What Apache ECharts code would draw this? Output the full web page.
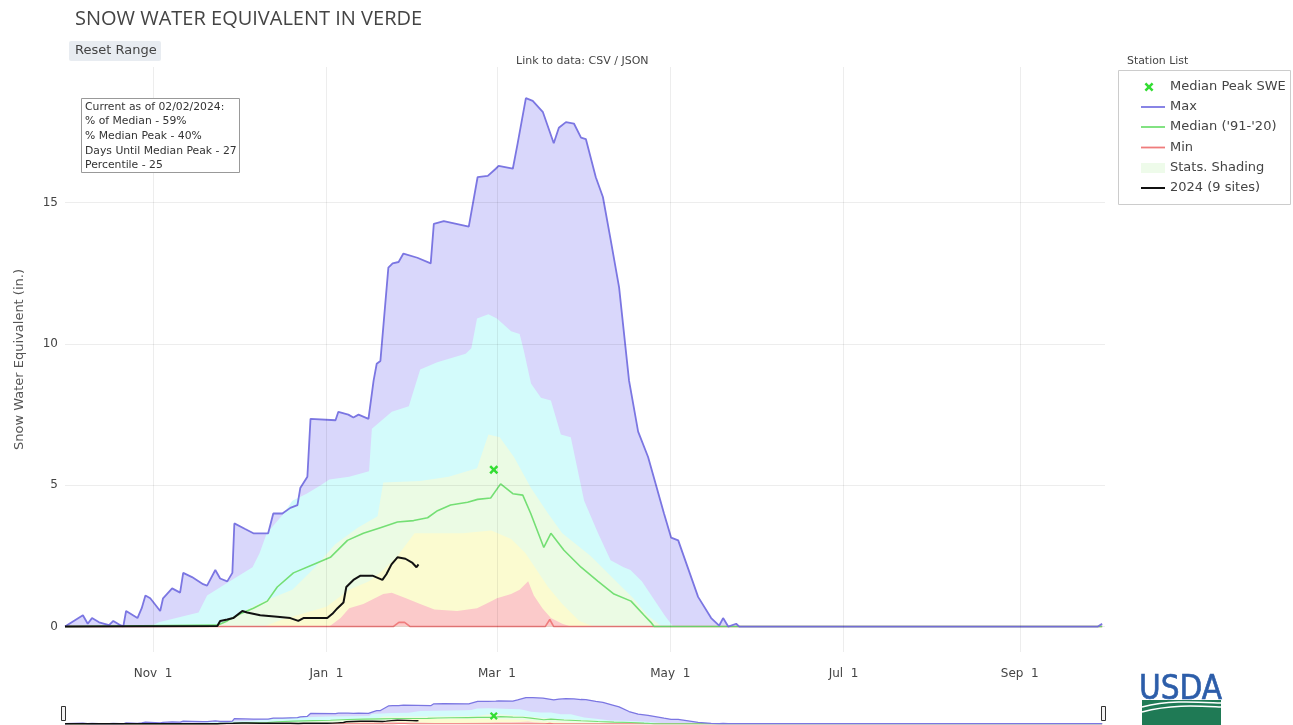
<!DOCTYPE html>
<html><head><meta charset="utf-8">
<script src="https://cdn.jsdelivr.net/npm/echarts@6/dist/echarts.min.js"></script>
<style>html,body{margin:0;padding:0;background:#fff}#c{width:1293px;height:725px}</style>
</head><body><div id="c"></div>
<script>
// ---- data (x = days since Oct 1, 2023; water year 2024) ----
const xTickDays = [31, 92, 152, 213, 274, 336];
const xTickLabels = ['Nov  1', 'Jan  1', 'Mar  1', 'May  1', 'Jul  1', 'Sep  1'];
const yTicks = [0, 5, 10, 15];

const maxDays = [0,6.3,8,9.5,12,15.5,17,19.5,20.5,21.5,25.5,27,28.3,30,33.5,34.5,37.7,40.5,41.6,44.7,48.6,50,52.9,54.6,57.1,58.9,59.6,63.4,66.3,71.5,73.3,76.5,79.3,81.8,82.8,85.3,86.4,95.2,96.2,99.7,101.5,103.3,106.8,108.6,109.7,111,113.8,115.3,117.4,119.1,124,128.7,129.8,133.3,142.1,145.2,148.8,151.6,152.6,157.6,159.3,162.2,164.6,168.2,172,173.8,176.3,179.1,181.6,183.3,186.8,189.3,192.1,195,198.5,201.7,205.2,210.8,213.3,215.8,222.8,227.4,230.2,231.6,233.4,236.2,237.3,363.5,365];
const maxValues = [0,0.4,0.1,0.3,0.15,0.05,0.2,0.05,0,0.55,0.3,0.65,1.1,1.0,0.55,1.0,1.35,1.2,1.9,1.75,1.5,1.45,2.0,1.7,1.6,1.9,3.65,3.45,3.3,3.3,4.0,4.0,4.2,4.3,4.9,5.3,7.35,7.3,7.6,7.5,7.4,7.5,7.35,8.7,9.3,9.4,12.7,12.85,12.9,13.2,13.05,12.85,14.25,14.35,14.15,15.9,15.95,16.2,16.3,16.2,17.1,18.7,18.6,18.2,17.1,17.65,17.85,17.8,17.3,17.25,15.9,15.2,13.65,12.0,8.7,6.9,6.0,4.0,3.15,3.05,1.05,0.3,0.03,0.3,0,0.1,0,0,0.1];

const medianDays = [0,53.6,57.1,61.7,66.3,71.2,74.7,80.4,87.4,93.4,99.4,105,111,117,122.7,127.6,131.1,135.7,141.7,145.2,149.8,153.3,157.6,161.1,163.9,168.5,171,175.6,181.6,187.6,193.2,199.2,203.8,206.2,207.3,365];
const medianValues = [0,0.05,0.2,0.45,0.65,0.9,1.4,1.9,2.2,2.45,3.05,3.3,3.5,3.7,3.75,3.85,4.1,4.3,4.4,4.5,4.55,5.05,4.7,4.65,4.0,2.8,3.3,2.7,2.1,1.6,1.15,0.9,0.4,0.15,0,0];

const minDays = [0,115.5,117.5,119.5,121.5,169,170.6,172,365];
const minValues = [0,0,0.15,0.15,0,0,0.25,0,0];

const wy2024Days = [0,53.6,54.6,57.1,59.2,62.4,64.1,68.7,74.7,79.3,82.1,83.9,92.3,94.1,95.9,98,99,101.5,104,108.2,111.7,113.1,114.9,117,119.8,122.3,123.7,124.4];
const wy2024Values = [0,0.02,0.2,0.25,0.3,0.55,0.5,0.4,0.35,0.3,0.2,0.3,0.3,0.45,0.65,0.85,1.4,1.65,1.8,1.8,1.65,1.85,2.2,2.45,2.4,2.25,2.1,2.2];

const medianPeakDay = 150.9;
const medianPeakValue = 5.55;

// percentile shading boundaries
const p90Days = [0,30,33,47,50,58,66,68.5,71,77,80,85,90,93,100,107,108,115,121,125,131,141,143,145,149,152,157,160,161.5,164,167.5,171,174.5,178,182.7,187.6,192,196.6,199,203,207,211,214,365];
const p90Values = [0,0,0.15,0.5,1.1,1.6,2.1,2.6,3.3,4.0,4.45,4.7,5.0,5.2,5.3,5.5,7.0,7.6,7.8,9.1,9.35,9.65,9.85,10.9,11.05,10.9,10.45,10.35,9.75,8.6,8.1,8.0,6.8,6.7,4.45,3.3,2.35,2.1,2.0,1.6,1.0,0.4,0,0];
const p70Days = [0,50,55,62,70,80,88,95,103,110,112,125,135,145,149,153,158,164,170,175,185,195,200,205,210,365];
const p70Values = [0,0,0.1,0.5,0.9,1.3,2.1,2.9,3.5,3.9,5.1,5.15,5.3,5.6,6.8,6.7,6.0,4.9,4.0,3.3,2.5,1.5,1.0,0.4,0,0];
const p30Days = [0,70,75,85,92,100,107,112,117,123,140,150,157,162,166,170,175,181,186,365];
const p30Values = [0,0,0.2,0.5,0.7,1.3,1.6,2.0,2.5,3.3,3.3,3.4,3.1,2.6,2.0,1.4,0.8,0.2,0,0];
const p10Days = [0,93,97,100,105,112,115,120,125,130,138,145,150,152,157,160,163,165,168,171,175,178,365];
const p10Values = [0,0,0.3,0.65,0.8,1.15,1.2,1.0,0.8,0.6,0.55,0.65,0.9,1.0,1.15,1.3,1.6,1.1,0.65,0.3,0.1,0,0];

const infoLines = ['Current as of 02/02/2024:', '% of Median - 59%', '% Median Peak - 40%', 'Days Until Median Peak - 27', 'Percentile - 25'];
const legendLabels = ['Median Peak SWE', 'Max', "Median ('91-'20)", 'Min', 'Stats. Shading', '2024 (9 sites)'];

// ---- styling ----
const C = {
  maxLine: '#7b76e2', maxFill: '#d9d7fb', p90Fill: '#d3fbfb', p70Fill: '#ebfbe4',
  p30Fill: '#fbfbd0', p10Fill: '#fbcaca', median: '#74df74', min: '#ef7c7c',
  cur: '#111111', peak: '#33dd33'
};
const F = 'DejaVu Sans';
const pts = (d, v) => d.map((x, i) => [x, v[i]]);
const XMARK = 'path://M2,0L5,3L8,0L10,2L7,5L10,8L8,10L5,7L2,10L0,8L3,5L0,2Z';
const XPOLY = [[2,0],[5,3],[8,0],[10,2],[7,5],[10,8],[8,10],[5,7],[2,10],[0,8],[3,5],[0,2]];

function buildSeries(ai, lw) {
  const area = (name, d, v, color) => ({
    type: 'line', name, data: pts(d, v), xAxisIndex: ai, yAxisIndex: ai, symbol: 'none',
    silent: true, lineStyle: { opacity: 0 }, areaStyle: { color, opacity: 1 }
  });
  const line = (name, d, v, color, w) => ({
    type: 'line', name, data: pts(d, v), xAxisIndex: ai, yAxisIndex: ai, symbol: 'none',
    silent: true, lineStyle: { color, width: w }
  });
  return [
    area('Max fill', maxDays, maxValues, C.maxFill),
    area('P90', p90Days, p90Values, C.p90Fill),
    area('P70', p70Days, p70Values, C.p70Fill),
    area('P30', p30Days, p30Values, C.p30Fill),
    area('P10', p10Days, p10Values, C.p10Fill),
    line('Min', minDays, minValues, C.min, 1.6 * lw),
    line("Median ('91-'20)", medianDays, medianValues, C.median, 1.6 * lw),
    line('Max', maxDays, maxValues, C.maxLine, 1.8 * lw),
    line('2024 (9 sites)', wy2024Days, wy2024Values, C.cur, 2 * lw),
    { type: 'line', name: 'Median Peak SWE', xAxisIndex: ai, yAxisIndex: ai, silent: true, z: 10,
      data: [[medianPeakDay, medianPeakValue]], symbol: XMARK, symbolSize: ai === 0 ? 9 : 8,
      showSymbol: true, showAllSymbol: true, lineStyle: { opacity: 0 },
      itemStyle: { color: C.peak, borderWidth: 0 } }
  ];
}

// ---- graphic overlays (title, button, info box, legend, logo, slider handles) ----
const g = [];
g.push({ type: 'text', x: 75, y: 19, style: { text: 'SNOW WATER EQUIVALENT IN VERDE', font: '20px "Open Sans"', fill: '#444', verticalAlign: 'middle' } });
g.push({ type: 'rect', shape: { x: 69, y: 41, width: 92, height: 20, r: 2 }, style: { fill: '#e8ecf1' } });
g.push({ type: 'text', x: 75, y: 51, style: { text: 'Reset Range', font: '13px "' + F + '"', fill: '#444', verticalAlign: 'middle' } });
g.push({ type: 'text', x: 516, y: 61, style: { text: 'Link to data: CSV / JSON', font: '11px "' + F + '"', fill: '#444', verticalAlign: 'middle' } });
g.push({ type: 'rect', z: 100, shape: { x: 81.5, y: 98.5, width: 158, height: 74 }, style: { fill: '#fff', stroke: '#999', lineWidth: 1 } });
infoLines.forEach((t, i) => g.push({ type: 'text', z: 101, x: 85, y: 107 + i * 14.6, style: { text: t, font: '10.8px "' + F + '"', fill: '#333', verticalAlign: 'middle' } }));
// legend
g.push({ type: 'text', x: 1127, y: 61, style: { text: 'Station List', font: '10.9px "' + F + '"', fill: '#444', verticalAlign: 'middle' } });
g.push({ type: 'rect', shape: { x: 1118.5, y: 70.5, width: 172, height: 134 }, style: { fill: '#fff', stroke: '#ccc', lineWidth: 1 } });
const ly = [87, 107, 127, 147.5, 168, 188];
const lcol = [null, C.maxLine, C.median, C.min, null, C.cur];
legendLabels.forEach((t, i) => {
  g.push({ type: 'text', x: 1170, y: ly[i], style: { text: t, font: '13px "' + F + '"', fill: '#444', verticalAlign: 'middle' } });
  if (i === 0) {
    g.push({ type: 'polygon', shape: { points: XPOLY.map(p => [1144.5 + p[0] * 0.9, ly[i] - 4.5 + p[1] * 0.9]) }, style: { fill: C.peak } });
  } else if (i === 4) {
    g.push({ type: 'rect', shape: { x: 1141, y: ly[i] - 5, width: 24, height: 10 }, style: { fill: '#eefbea' } });
  } else {
    g.push({ type: 'line', shape: { x1: 1141, y1: ly[i], x2: 1165, y2: ly[i] }, style: { stroke: lcol[i], lineWidth: i === 5 ? 2 : 1.8 } });
  }
});
// USDA logo
g.push({ type: 'text', x: 1139, y: 690, style: { text: 'USDA', font: '500 33px "DejaVu Sans Condensed"', fill: '#2c5da9', verticalAlign: 'middle', stroke: '#2c5da9', lineWidth: 0.6 } });
g.push({ type: 'rect', shape: { x: 1142, y: 700, width: 79, height: 25 }, style: { fill: '#1f7a55' } });
g.push({ type: 'bezierCurve', shape: { x1: 1142, y1: 707, cpx1: 1170, cpy1: 700, cpx2: 1195, cpy2: 702, x2: 1221, y2: 703 }, style: { stroke: '#fff', lineWidth: 1.5, fill: null } });
g.push({ type: 'bezierCurve', shape: { x1: 1142, y1: 712, cpx1: 1172, cpy1: 704, cpx2: 1198, cpy2: 706, x2: 1221, y2: 707 }, style: { stroke: '#fff', lineWidth: 1.5, fill: null } });
// range slider handles
[61.5, 1101.5].forEach(x => g.push({ type: 'rect', z: 100, shape: { x, y: 706.5, width: 4, height: 14 }, style: { fill: '#f4f4f4', stroke: '#333', lineWidth: 1 } }));

const chart = echarts.init(document.getElementById('c'), null, { renderer: 'canvas' });
chart.setOption({
  animation: false,
  backgroundColor: '#fff',
  grid: [
    { left: 65, right: 188, top: 67, height: 585 },
    { left: 65, right: 188, top: 696, height: 31.5 }
  ],
  xAxis: [
    { type: 'value', gridIndex: 0, min: 0, max: 366, z: 5,
      axisLine: { show: false },
      axisTick: { show: false, customValues: xTickDays },
      axisLabel: { customValues: xTickDays, margin: 16, color: '#444', fontSize: 12, fontFamily: F,
        formatter: v => xTickLabels[xTickDays.indexOf(v)] || '' },
      splitLine: { show: true, lineStyle: { color: 'rgba(0,0,0,0.07)', width: 1 } } },
    { type: 'value', gridIndex: 1, min: 0, max: 366, show: false }
  ],
  yAxis: [
    { type: 'value', gridIndex: 0, min: -0.9, max: 19.8, z: 5,
      name: 'Snow Water Equivalent (in.)', nameLocation: 'middle', nameGap: 39,
      nameTextStyle: { fontSize: 13, color: '#555', fontFamily: F },
      axisLine: { show: false },
      axisTick: { show: false, customValues: yTicks },
      axisLabel: { customValues: yTicks, margin: 7, color: '#444', fontSize: 12, fontFamily: F },
      splitLine: { show: true, lineStyle: { color: 'rgba(0,0,0,0.07)', width: 1 } } },
    { type: 'value', gridIndex: 1, min: -0.9, max: 19.8, show: false }
  ],
  series: buildSeries(0, 1).concat(buildSeries(1, 0.7)),
  graphic: g
});
</script></body></html>
